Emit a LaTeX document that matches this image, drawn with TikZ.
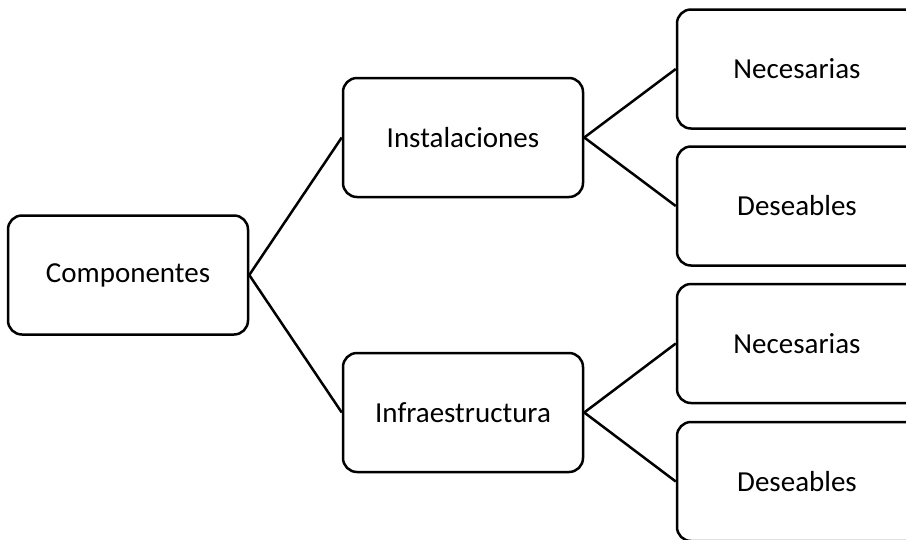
\documentclass[tikz,border=0pt]{standalone}
\usepackage{fontspec}
\setmainfont{Carlito}
\begin{document}
\begin{tikzpicture}[x=1pt,y=-1pt,
  box/.style={draw, line width=2.5pt, rounded corners=14pt, minimum width=240pt, minimum height=119pt, inner sep=0pt, font=\fontsize{29}{35}\selectfont},
  cutbox/.style={box, minimum width=280pt},
  link/.style={line width=2.5pt}]
\useasboundingbox (0,0) rectangle (906,539);
\clip (0,0) rectangle (906,539);
\node[box] (comp) at (128,275) {Componentes};
\node[box] (inst) at (463,137.5) {Instalaciones};
\node[box] (infr) at (463,412.5) {Infraestructura};
\node[cutbox] (nec1) at (817,69) {\hspace*{-40pt}Necesarias};
\node[cutbox] (des1) at (817,206) {\hspace*{-40pt}Deseables};
\node[cutbox] (nec2) at (817,343.5) {\hspace*{-40pt}Necesarias};
\node[cutbox] (des2) at (817,481.5) {\hspace*{-40pt}Deseables};
\draw[link] (comp.east) -- (inst.west);
\draw[link] (comp.east) -- (infr.west);
\draw[link] (inst.east) -- (nec1.west);
\draw[link] (inst.east) -- (des1.west);
\draw[link] (infr.east) -- (nec2.west);
\draw[link] (infr.east) -- (des2.west);
\end{tikzpicture}
\end{document}
